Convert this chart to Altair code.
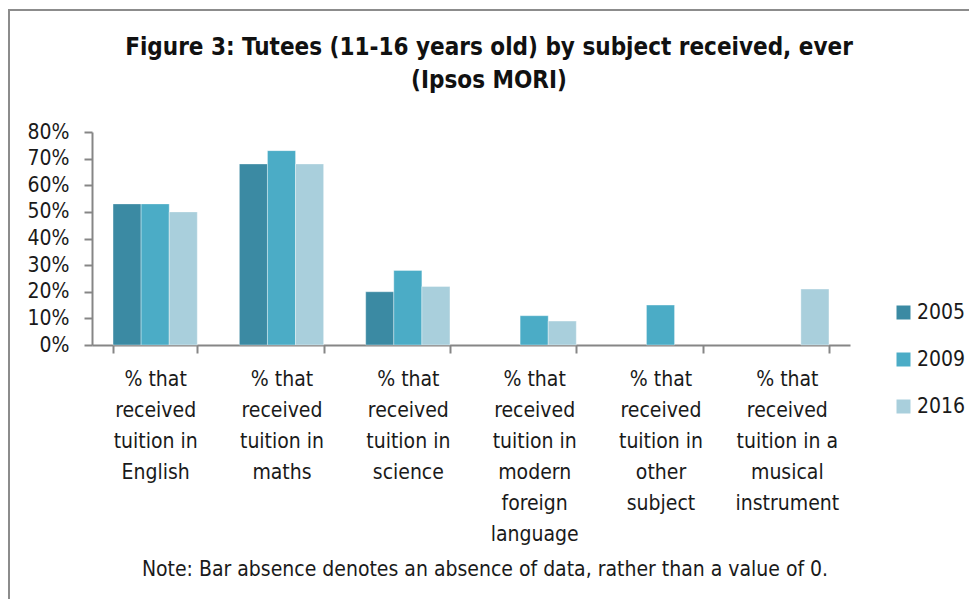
import altair as alt
import pandas as pd

# ---- data ----
categories = [
    "% that\nreceived\ntuition in\nEnglish",
    "% that\nreceived\ntuition in\nmaths",
    "% that\nreceived\ntuition in\nscience",
    "% that\nreceived\ntuition in\nmodern\nforeign\nlanguage",
    "% that\nreceived\ntuition in\nother\nsubject",
    "% that\nreceived\ntuition in a\nmusical\ninstrument",
]
years = ["2005", "2009", "2016"]
values_2005 = [53, 68, 20, None, None, None]
values_2009 = [53, 73, 28, 11, 15, None]
values_2016 = [50, 68, 22, 9, None, 21]
colors = ["#3B8AA3", "#4BACC6", "#A9CFDC"]
y_ticks = [0, 0.1, 0.2, 0.3, 0.4, 0.5, 0.6, 0.7, 0.8]

title_lines = ["Figure 3: Tutees (11-16 years old) by subject received, ever", "(Ipsos MORI)"]
note_text = ["Note: Bar absence denotes an absence of data, rather than a value of 0."]

rows = []
for year, vals in zip(years, [values_2005, values_2009, values_2016]):
    for cat, v in zip(categories, vals):
        if v is not None:
            rows.append({"subject": cat, "year": year, "value": v / 100})
df = pd.DataFrame(rows)

FONT = "DejaVu Sans Condensed"
GREY = "#868686"
TXT = "#1a1a1a"

W, H = 758, 213

bars = alt.Chart(df).mark_bar(stroke="white", strokeWidth=0.6, strokeOpacity=0.6).encode(
    x=alt.X(
        "subject:N",
        sort=categories,
        scale=alt.Scale(paddingInner=0.333, paddingOuter=0.1665),
        axis=alt.Axis(
            title=None,
            labelAngle=0,
            labelExpr="split(datum.label, '\\n')",
            labelFontSize=21,
            labelLineHeight=31,
            labelPadding=15,
            labelColor=TXT,
            labelFont=FONT,
            domainColor=GREY,
            domainWidth=2,
            tickColor=GREY,
            tickWidth=2,
            tickSize=8,
            tickBand="extent",
        ),
    ),
    xOffset=alt.XOffset("year:N", sort=years),
    y=alt.Y(
        "value:Q",
        scale=alt.Scale(domain=[0, 0.8], nice=False),
        axis=alt.Axis(
            title=None,
            format=".0%",
            values=y_ticks,
            grid=False,
            labelFontSize=21,
            labelColor=TXT,
            labelFont=FONT,
            labelPadding=15,
            domainColor=GREY,
            domainWidth=2,
            tickColor=GREY,
            tickWidth=2,
            tickSize=8,
        ),
    ),
    color=alt.Color(
        "year:N",
        sort=years,
        scale=alt.Scale(domain=years, range=colors),
        legend=alt.Legend(
            title=None,
            orient="none",
            legendX=801,
            legendY=170,
            symbolType="square",
            symbolSize=196,
            symbolStrokeWidth=0,
            labelFontSize=21,
            labelFont=FONT,
            labelColor=TXT,
            rowPadding=25,
            labelOffset=3,
            padding=0,
        ),
    ),
)

title = alt.Chart(pd.DataFrame({"a": [0]})).mark_text(
    font=FONT, fontSize=24, fontWeight="bold", color="#111111",
    align="center", baseline="middle", lineHeight=33
).encode(x=alt.value(397), y=alt.value(-84), text=alt.value(title_lines))

note = alt.Chart(pd.DataFrame({"note": note_text})).mark_text(
    font=FONT, fontSize=21, color=TXT, align="center", baseline="middle"
).encode(x=alt.value(393), y=alt.value(438), text="note:N")

frame_top = alt.Chart(pd.DataFrame({"a": [0]})).mark_rule(color="#8c8c8c", strokeWidth=2).encode(
    x=alt.value(-84), x2=alt.value(880), y=alt.value(-122)
)
frame_left = alt.Chart(pd.DataFrame({"a": [0]})).mark_rule(color="#8c8c8c", strokeWidth=2).encode(
    x=alt.value(-83), y=alt.value(-123), y2=alt.value(470)
)

chart = alt.layer(frame_top, frame_left, title, bars, note).properties(
    width=W,
    height=H,
    autosize=alt.AutoSizeParams(type="none"),
    padding={"left": 84, "top": 124, "right": 119, "bottom": 254},
).configure_view(stroke=None)

chart.save("out.html", embed_options={"renderer": "svg", "actions": False})
